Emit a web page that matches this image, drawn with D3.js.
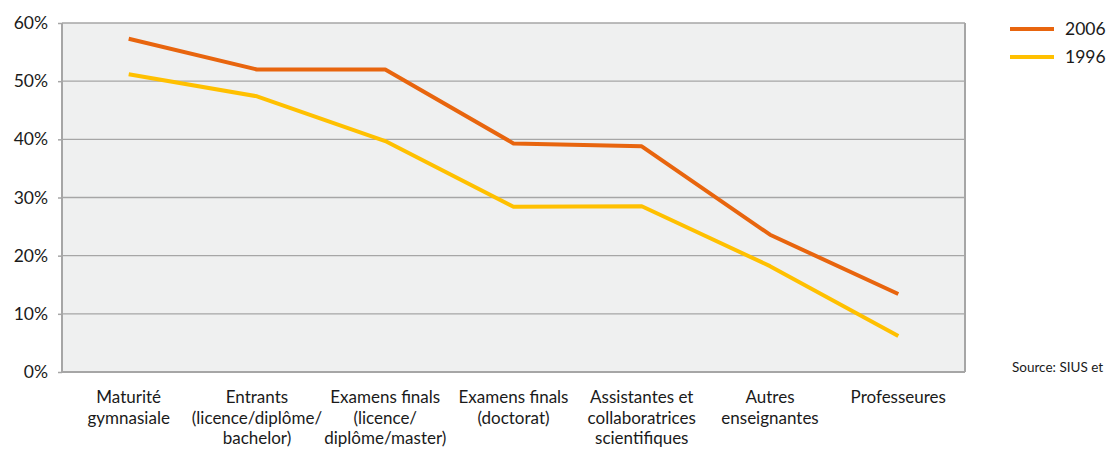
<!DOCTYPE html>
<html><head><meta charset="utf-8">
<script src="https://cdn.jsdelivr.net/npm/d3@7"></script>
<style>body{margin:0;background:#fff;}svg text{font-family:"Lato",sans-serif;fill:#1a1a1a;}</style>
</head><body><svg id="c" width="1107" height="450"></svg>
<script>
const categories = [
  ["Maturité","gymnasiale"],
  ["Entrants","(licence/diplôme/","bachelor)"],
  ["Examens finals","(licence/","diplôme/master)"],
  ["Examens finals","(doctorat)"],
  ["Assistantes et","collaboratrices","scientifiques"],
  ["Autres","enseignantes"],
  ["Professeures"]
];
const series2006 = [57.3, 52.0, 52.0, 39.3, 38.8, 23.6, 13.4];
const series1996 = [51.2, 47.4, 39.7, 28.4, 28.5, 18.2, 6.2];
const yTicks = [0, 10, 20, 30, 40, 50, 60];
const seriesNames = ["2006", "1996"];
const colors = ["#E8650E", "#FFC000"];

const svg = d3.select("#c");
const L = 62, R = 965, T = 23, B = 372;
const x = d3.scalePoint().domain(d3.range(categories.length)).range([L, R]).padding(0.52);
const y = d3.scaleLinear().domain([0, 60]).range([B, T]);

svg.append("rect").attr("x", L).attr("y", T).attr("width", R - L).attr("height", B - T).attr("fill", "#EFF0F0");

const yAxis = svg.append("g").attr("transform", `translate(${L},0)`)
  .call(d3.axisLeft(y).tickValues(yTicks).tickFormat(d => d + "%").tickSize(4).tickPadding(10));
yAxis.select(".domain").remove();
yAxis.selectAll(".tick line").attr("stroke", "#A6A6A6").attr("stroke-width", 1.5);
yAxis.selectAll(".tick text").attr("font-size", 17.5).attr("fill", "#1a1a1a").attr("font-family", "Lato");

svg.append("g").selectAll("line").data(yTicks).join("line")
  .attr("x1", L).attr("x2", R).attr("y1", d => y(d)).attr("y2", d => y(d))
  .attr("stroke", "#A6A6A6").attr("stroke-width", 1.3);
svg.append("line").attr("x1", L).attr("x2", L).attr("y1", T).attr("y2", B).attr("stroke", "#A6A6A6").attr("stroke-width", 2);
svg.append("line").attr("x1", R).attr("x2", R).attr("y1", T).attr("y2", B).attr("stroke", "#A6A6A6").attr("stroke-width", 2);
svg.append("line").attr("x1", L).attr("x2", R).attr("y1", B).attr("y2", B).attr("stroke", "#A6A6A6").attr("stroke-width", 2);

const line = d3.line().x((d, i) => x(i)).y(d => y(d));
[series1996, series2006].forEach((s, k) => {
  svg.append("path").datum(s).attr("d", line).attr("fill", "none")
    .attr("stroke", k === 0 ? colors[1] : colors[0]).attr("stroke-width", 4).attr("stroke-linejoin", "round");
});

const xl = svg.append("g");
categories.forEach((lines, i) => {
  lines.forEach((ln, j) => xl.append("text").attr("x", x(i)).attr("y", 403 + j * 20.5)
    .attr("text-anchor", "middle").attr("font-size", 17).text(ln));
});

seriesNames.forEach((n, i) => {
  const yy = 29 + i * 28;
  svg.append("line").attr("x1", 1010).attr("x2", 1054).attr("y1", yy).attr("y2", yy).attr("stroke", colors[i]).attr("stroke-width", 4);
  svg.append("text").attr("x", 1065).attr("y", yy + 6).attr("font-size", 17.5).text(n);
});
svg.append("text").attr("x", 1012).attr("y", 372).attr("font-size", 13.5).text("Source: SIUS et PERS");
</script></body></html>
